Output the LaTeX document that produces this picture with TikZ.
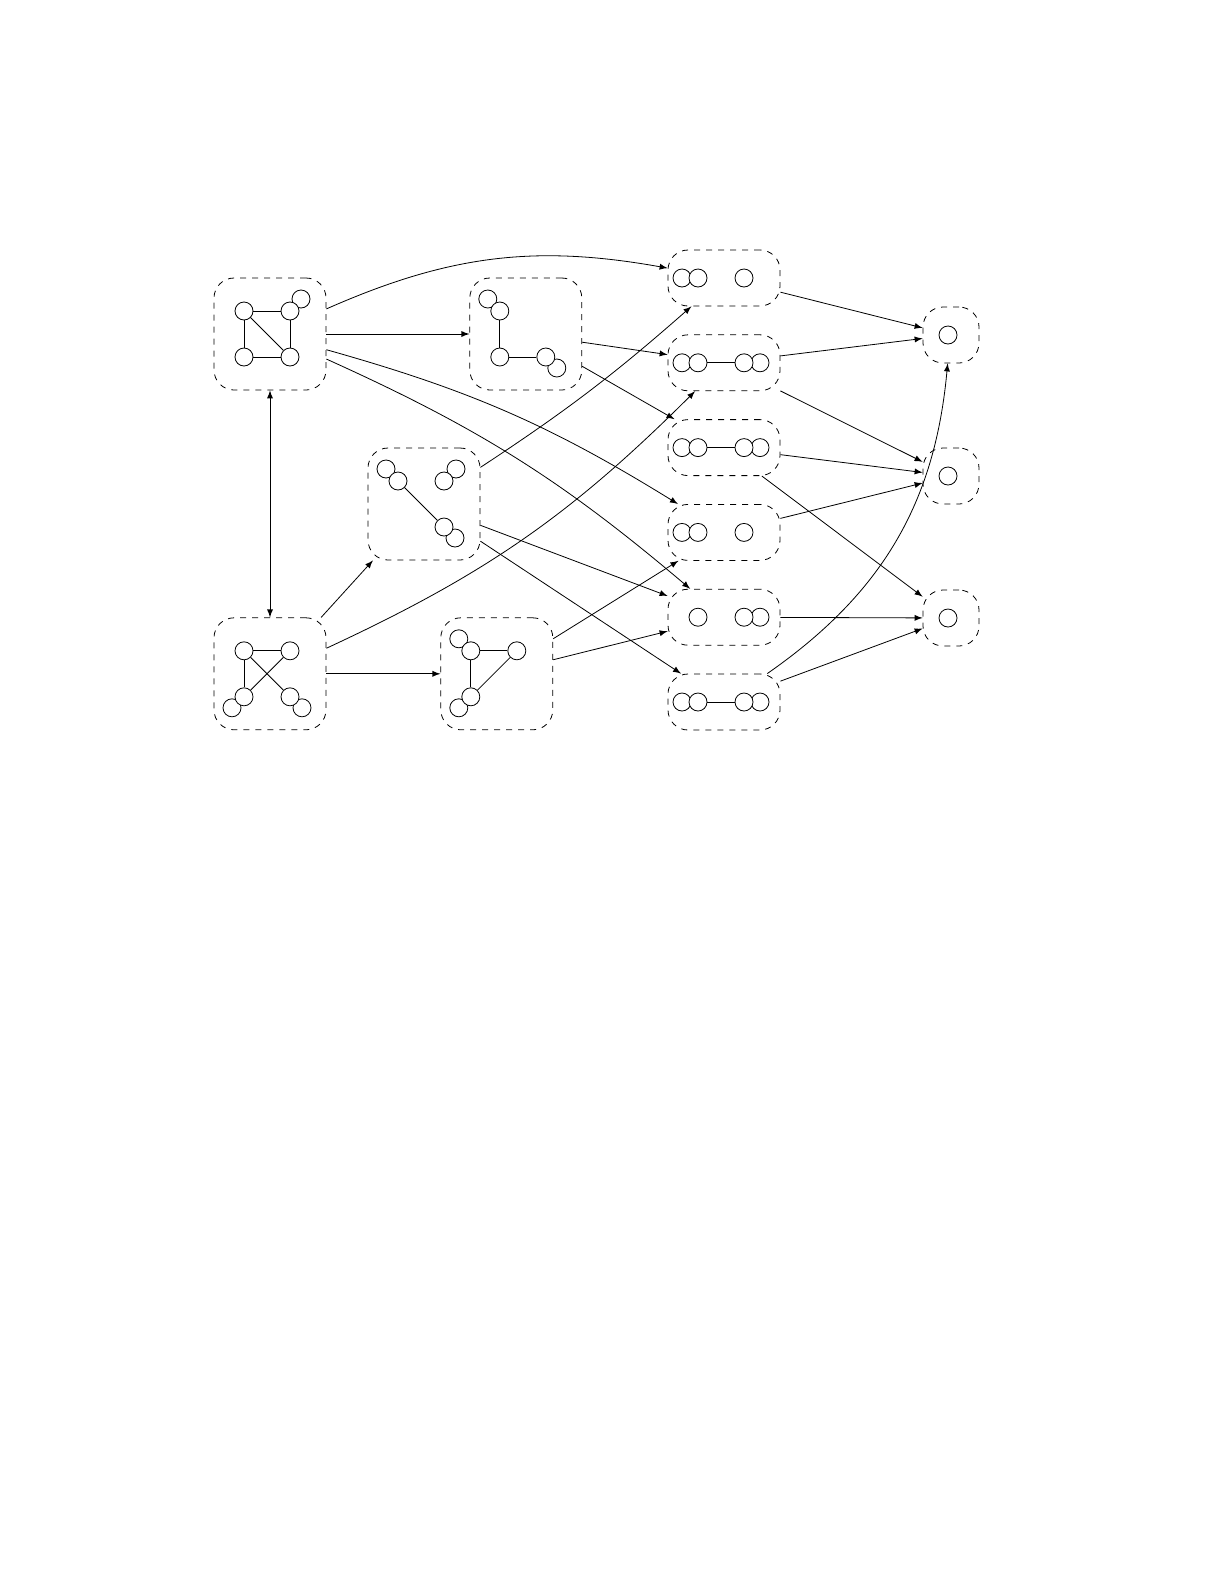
\documentclass[tikz,border=0pt]{standalone}
\usetikzlibrary{positioning,calc}

\begin{document}
\begin{tikzpicture}[
  x=0.5pt, y=0.5pt, >=latex,
  statebox/.style={
        draw,
        dashed,
        rounded corners=10pt,
        minimum width=56pt,
        minimum height=56pt,
        inner sep=0
  },
  pairbox/.style={statebox, minimum height=28pt},
  singlebox/.style={statebox, minimum width=28pt, minimum height=28pt},
  vtx/.style={
        draw,
        circle,
        fill=white,
        minimum size=9pt,
        inner sep=0
  }
]

    \useasboundingbox (0,0) rectangle (1225,-1585);

    \node[statebox] (A) at (270,-334) {};
    \node[statebox, right=71.5pt of A] (B) {};
    \node[statebox] (C) at (424,-504) {};
    \node[statebox, below=113.5pt of A] (D) {};
    \node[statebox, right=57pt of D] (E) {};

    \node[pairbox] (R1) at (724,-278) {};
    \node[pairbox, below=14pt of R1] (R2) {};
    \node[pairbox, below=14pt of R2] (R3) {};
    \node[pairbox, below=14pt of R3] (R4) {};
    \node[pairbox, below=14pt of R4] (R5) {};
    \node[pairbox, below=14pt of R5] (R6) {};

    \node[singlebox] (S1) at (951,-335) {};
    \node[singlebox] (S2) at (951,-476) {};
    \node[singlebox] (S3) at (951,-618) {};

    % loops first, the vertices lie on top of them
    \node[vtx] at ($(A)+(31,35)$) {};
    \node[vtx] at ($(B)+(-38,35)$) {};
    \node[vtx] at ($(B)+(31,-34)$) {};
    \node[vtx] at ($(C)+(-38,35)$) {};
    \node[vtx] at ($(C)+(32,35)$) {};
    \node[vtx] at ($(C)+(31,-34)$) {};
    \node[vtx] at ($(D)+(-38,-34)$) {};
    \node[vtx] at ($(D)+(32,-34)$) {};
    \node[vtx] at ($(E)+(-38,35)$) {};
    \node[vtx] at ($(E)+(-38,-34)$) {};
    \node[vtx] at ($(R1)+(-42,0)$) {};
    \node[vtx] at ($(R2)+(-42,0)$) {};
    \node[vtx] at ($(R2)+(36,0)$) {};
    \node[vtx] at ($(R3)+(-42,0)$) {};
    \node[vtx] at ($(R3)+(36,0)$) {};
    \node[vtx] at ($(R4)+(-42,0)$) {};
    \node[vtx] at ($(R5)+(36,0)$) {};
    \node[vtx] at ($(R6)+(-42,0)$) {};
    \node[vtx] at ($(R6)+(36,0)$) {};

    \node[vtx] (A1) at ($(A)+(-26,23)$) {};
    \node[vtx] (A2) at ($(A)+(20,23)$) {};
    \node[vtx] (A3) at ($(A)+(-26,-23)$) {};
    \node[vtx] (A4) at ($(A)+(20,-23)$) {};

    \node[vtx] (B1) at ($(B)+(-26,23)$) {};
    \node[vtx] (B2) at ($(B)+(-26,-23)$) {};
    \node[vtx] (B3) at ($(B)+(20,-23)$) {};

    \node[vtx] (C1) at ($(C)+(-26,23)$) {};
    \node[vtx] (C2) at ($(C)+(20,23)$) {};
    \node[vtx] (C3) at ($(C)+(20,-23)$) {};

    \node[vtx] (D1) at ($(D)+(-26,23)$) {};
    \node[vtx] (D2) at ($(D)+(20,23)$) {};
    \node[vtx] (D3) at ($(D)+(-26,-23)$) {};
    \node[vtx] (D4) at ($(D)+(20,-23)$) {};

    \node[vtx] (E1) at ($(E)+(-26,23)$) {};
    \node[vtx] (E2) at ($(E)+(20,23)$) {};
    \node[vtx] (E3) at ($(E)+(-26,-23)$) {};

    \node[vtx] (R1a) at ($(R1)+(-26,0)$) {};
    \node[vtx] (R1b) at ($(R1)+(20,0)$) {};
    \node[vtx] (R2a) at ($(R2)+(-26,0)$) {};
    \node[vtx] (R2b) at ($(R2)+(20,0)$) {};
    \node[vtx] (R3a) at ($(R3)+(-26,0)$) {};
    \node[vtx] (R3b) at ($(R3)+(20,0)$) {};
    \node[vtx] (R4a) at ($(R4)+(-26,0)$) {};
    \node[vtx] (R4b) at ($(R4)+(20,0)$) {};
    \node[vtx] (R5a) at ($(R5)+(-26,0)$) {};
    \node[vtx] (R5b) at ($(R5)+(20,0)$) {};
    \node[vtx] (R6a) at ($(R6)+(-26,0)$) {};
    \node[vtx] (R6b) at ($(R6)+(20,0)$) {};

    \node[vtx] (S1a) at ($(S1)+(-3,0)$) {};
    \node[vtx] (S2a) at ($(S2)+(-3,0)$) {};
    \node[vtx] (S3a) at ($(S3)+(-3,0)$) {};

    \draw (A1) -- (A2);
    \draw (A1) -- (A3);
    \draw (A1) -- (A4);
    \draw (A2) -- (A4);
    \draw (A3) -- (A4);
    \draw (B1) -- (B2);
    \draw (B2) -- (B3);
    \draw (C1) -- (C3);
    \draw (D1) -- (D2);
    \draw (D1) -- (D3);
    \draw (D1) -- (D4);
    \draw (D2) -- (D3);
    \draw (E1) -- (E2);
    \draw (E1) -- (E3);
    \draw (E2) -- (E3);
    \draw (R2a) -- (R2b);
    \draw (R3a) -- (R3b);
    \draw (R6a) -- (R6b);

    \draw[->] (A) to[bend left=17] (R1);
    \draw[->] (A) -- (B);
    \draw[->] (A) to[bend left=8] (R4);
    \draw[->] (A) to[bend left=8] (R5);
    \draw[<->] (A) -- (D);
    \draw[->] (B) -- (R2);
    \draw[->] (B) -- (R3);
    \draw[->] (C) to[bend right=4] (R1);
    \draw[->] (C) -- (R5);
    \draw[->] (C) -- (R6);
    \draw[->] (D) -- (C);
    \draw[->] (D) to[bend right=10] (R2);
    \draw[->] (D) -- (E);
    \draw[->] (E) -- (R4);
    \draw[->] (E) -- (R5);

    \draw[->] (R1) -- (S1);
    \draw[->] (R2) -- (S1);
    \draw[->] (R2) -- (S2);
    \draw[->] (R3) -- (S2);
    \draw[->] (R3) -- (S3);
    \draw[->] (R4) -- (S2);
    \draw[->] (R5) -- (S3);
    \draw[->] (R6) -- (S3);
    \draw[->] (R6) to[bend right=25] (S1);
\end{tikzpicture}
\end{document}
